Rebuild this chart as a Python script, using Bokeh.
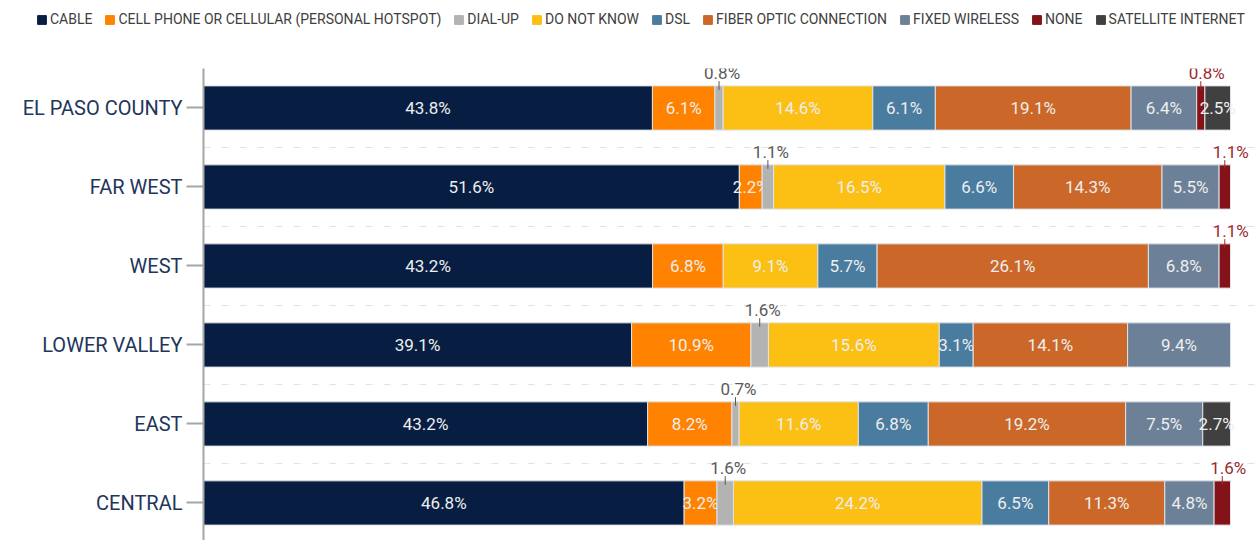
import numpy as np
from bokeh.plotting import figure
from bokeh.models import Range1d, FixedTicker, Legend, LegendItem
from bokeh.core.properties import value
from bokeh.embed import file_html
from bokeh.resources import INLINE

# ---------------- data ----------------
regions = ["EL PASO COUNTY", "FAR WEST", "WEST", "LOWER VALLEY", "EAST", "CENTRAL"]
series_names = ["CABLE", "CELL PHONE OR CELLULAR (PERSONAL HOTSPOT)", "DIAL-UP",
                "DO NOT KNOW", "DSL", "FIBER OPTIC CONNECTION", "FIXED WIRELESS",
                "NONE", "SATELLITE INTERNET"]
cable          = [43.8, 51.6, 43.2, 39.1, 43.2, 46.8]
cell_phone     = [6.1, 2.2, 6.8, 10.9, 8.2, 3.2]
dial_up        = [0.8, 1.1, 0.0, 1.6, 0.7, 1.6]
do_not_know    = [14.6, 16.5, 9.1, 15.6, 11.6, 24.2]
dsl            = [6.1, 6.6, 5.7, 3.1, 6.8, 6.5]
fiber_optic    = [19.1, 14.3, 26.1, 14.1, 19.2, 11.3]
fixed_wireless = [6.4, 5.5, 6.8, 9.4, 7.5, 4.8]
none           = [0.8, 1.1, 1.1, 0.0, 0.0, 1.6]
satellite      = [2.5, 0.0, 0.0, 0.0, 2.7, 0.0]
series_values = [cable, cell_phone, dial_up, do_not_know, dsl, fiber_optic,
                 fixed_wireless, none, satellite]
colors = ["#071e42", "#ff8200", "#b3b3b3", "#fcbf14", "#4a7ca0", "#cb6829",
          "#6c8197", "#831219", "#404040"]
outside_series = {"DIAL-UP": "#595959", "NONE": "#9b2a30"}
outside_offset = {"DIAL-UP": 3, "NONE": 6}

# ---------------- main figure ----------------
n = len(regions)
ypos = np.arange(n)[::-1].astype(float)          # top row first
vals = np.array(series_values, dtype=float)       # series x regions
totals = vals.sum(axis=0)
pct = vals / totals * 100.0                       # 100% stacked
right = np.cumsum(pct, axis=0)
left = right - pct

p = figure(width=1260, height=500, output_backend="svg", toolbar_location=None,
           x_range=Range1d(0, 102.92), y_range=Range1d(-0.475, n - 0.5),
           min_border_left=203, min_border_right=0, min_border_top=28,
           min_border_bottom=0)
p.outline_line_color = None
p.xaxis.visible = False
p.xgrid.visible = False
p.ygrid.ticker = FixedTicker(ticks=list(np.arange(n) + 0.5))
p.ygrid.grid_line_color = "#e3e3e3"
p.ygrid.grid_line_dash = "7 11"
p.ygrid.grid_line_width = 1

ax = p.yaxis[0]
ax.ticker = FixedTicker(ticks=list(ypos))
ax.major_label_overrides = {float(y): r for y, r in zip(ypos, regions)}
ax.axis_line_color = "#a6a6a6"
ax.axis_line_width = 2
ax.major_tick_line_color = "#a6a6a6"
ax.major_tick_line_width = 2
ax.major_tick_out = 17
ax.major_tick_in = 0
ax.minor_tick_out = 0
ax.minor_tick_in = 0
ax.major_label_standoff = 4
ax.major_label_text_font = "Roboto"
ax.major_label_text_font_size = "20px"
ax.major_label_text_color = "#22355a"

for i, name in enumerate(series_names):
    mask = vals[i] > 0
    p.hbar(y=ypos[mask], left=left[i][mask], right=right[i][mask], height=0.56,
           fill_color=colors[i], line_color="#dfe3e8", line_width=1)
    xc = ((left[i] + right[i]) / 2)[mask]
    labels = [f"{v:.1f}%" for v in vals[i][mask]]
    if name in outside_series:
        c = outside_series[name]
        p.segment(x0=xc, y0=ypos[mask] + 0.23, x1=xc, y1=ypos[mask] + 0.34,
                  line_color=c, line_width=1)
        p.text(x=xc, y=ypos[mask] + 0.44, text=labels, text_align="center",
               text_baseline="middle", x_offset=outside_offset[name],
               text_font=value("Roboto"), text_font_size="17px", text_color=c)
    else:
        p.text(x=xc, y=ypos[mask], text=labels, text_align="center",
               text_baseline="middle", text_font=value("Roboto"),
               text_font_size="17px", text_color="#eeeeee")

# ---------------- legend strip (separate root, full-width frame) ----------------
lg = figure(width=1260, height=40, output_backend="svg", toolbar_location=None,
            x_axis_location=None, y_axis_location=None,
            x_range=Range1d(-300, -200), y_range=Range1d(-30, -20),
            min_border_left=0, min_border_right=0, min_border_top=0,
            min_border_bottom=0)
lg.outline_line_color = None
lg.xgrid.visible = False
lg.ygrid.visible = False
items = []
for i, name in enumerate(series_names):
    # same bars, kept far outside the strip's visible ranges; only the swatch shows
    r = lg.hbar(y=ypos, left=left[i], right=right[i], height=0.56,
                fill_color=colors[i], line_color=colors[i])
    items.append(LegendItem(label=name, renderers=[r]))
legend = Legend(items=items, location=(36, 13), orientation="horizontal",
                glyph_width=11, glyph_height=11, label_standoff=3, spacing=12,
                padding=0, margin=0, border_line_color=None,
                background_fill_alpha=0, label_text_font="Roboto",
                label_text_font_size="14px", label_text_color="#404040",
                label_height=14)
lg.add_layout(legend)

open("out.html", "w").write(file_html([lg, p], INLINE))
